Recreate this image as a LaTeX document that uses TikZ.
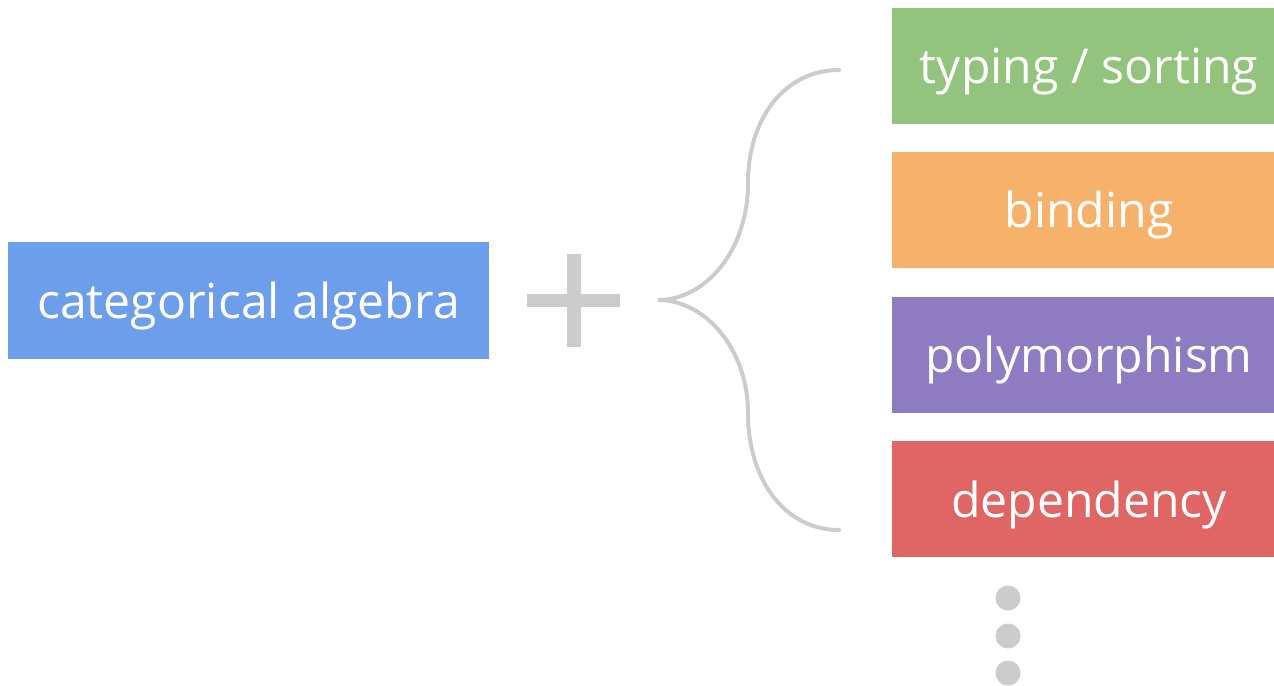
\documentclass[tikz,border=0pt]{standalone}
\usepackage{fontspec}
\setmainfont{Open Sans}
\usetikzlibrary{positioning}

\definecolor{algblue}{HTML}{6D9EEB}
\definecolor{typegreen}{HTML}{93C47D}
\definecolor{bindorange}{HTML}{F6B26B}
\definecolor{polypurple}{HTML}{8E7CC3}
\definecolor{depred}{HTML}{E06666}
\definecolor{lightgray}{HTML}{CCCCCC}

\begin{document}
\begin{tikzpicture}[x=0.02cm,y=-0.02cm,
    tag/.style={inner sep=0pt,text=white,font=\fontsize{27.4}{32}\selectfont,
      text height=0.9cm,text depth=0.18cm,minimum height=2.33cm},
    feature/.style={tag,minimum width=7.64cm,execute at begin node={\kern0.24cm}}]
  \useasboundingbox (0,0) rectangle (1274,686);

  \node[tag,fill=algblue,minimum width=9.62cm] (alg) at (248.5,300.5) {categorical algebra};

  % plus sign
  \fill[lightgray] (527,294) rectangle (620,307);
  \fill[lightgray] (567,254) rectangle (581,347);

  % brace
  \draw[lightgray,line width=0.08cm,line cap=round]
    (839,70) .. controls (785,70) and (748,118) .. (748,183)
    .. controls (748,250) and (706,300) .. (658,300)
    .. controls (706,300) and (748,350) .. (748,413)
    .. controls (748,480) and (785,530) .. (839,530);

  \node[feature,fill=typegreen] (typing) at (1083,66) {typing / sorting};
  \node[feature,fill=bindorange] (binding) at (1083,210) {binding};
  \node[feature,fill=polypurple] (poly) at (1083,355) {polymorphism};
  \node[feature,fill=depred] (dep) at (1083,499) {dependency};

  \foreach \y in {598,636,673}
    \fill[lightgray] (1008,\y) circle (0.25cm);
\end{tikzpicture}
\end{document}
